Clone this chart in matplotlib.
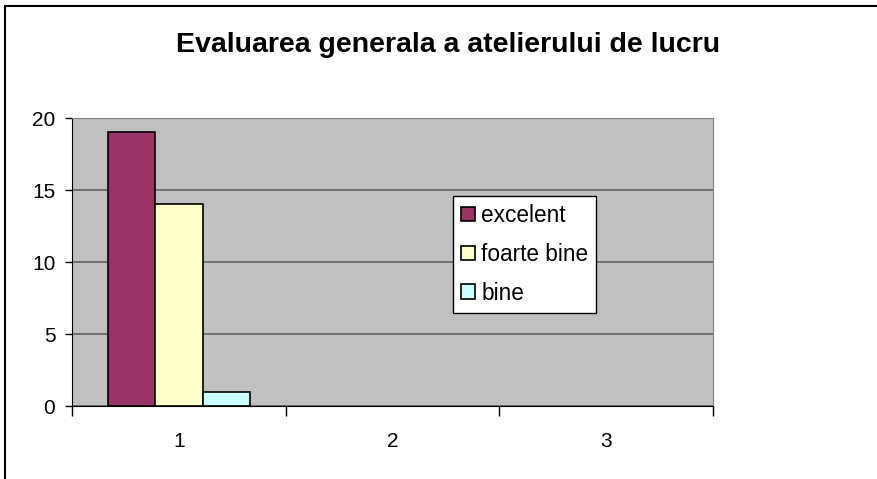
import matplotlib.pyplot as plt
import matplotlib.patches as mpatches
import numpy as np

plt.rcParams['font.family'] = ['Liberation Sans', 'DejaVu Sans']

categories = ['1', '2', '3']
excelent = [19, 0, 0]
foarte_bine = [14, 0, 0]
bine = [1, 0, 0]
series_names = ['excelent', 'foarte bine', 'bine']
colors = ['#993366', '#FFFFCC', '#CCFFFF']

fig = plt.figure(figsize=(8.77, 4.79), dpi=100)
W, H = 877, 479

# outer chart border (Excel chart area)
fig.patches.append(mpatches.Rectangle((5 / W, -0.01), 1.0, 1 - 6 / H + 0.01,
                                      transform=fig.transFigure, fill=False,
                                      edgecolor='black', linewidth=1.5))

ax = fig.add_axes([72 / W, 1 - 406 / H, (713 - 72) / W, (406 - 118) / H])
ax.set_facecolor('#C0C0C0')

x = np.arange(1, len(categories) + 1)
w = 1 / 4.5
for i, (vals, name, c) in enumerate(zip([excelent, foarte_bine, bine], series_names, colors)):
    vals = np.array(vals)
    keep = vals > 0  # Excel draws nothing for empty cells
    ax.bar(x[keep] + (i - 1) * w, vals[keep], width=w, color=c, edgecolor='black',
           linewidth=1.2, label=name, zorder=3)

ax.set_xlim(0.5, 3.5)
ax.set_ylim(0, 20)
ax.set_yticks(np.arange(0, 21, 5))
ax.yaxis.grid(True, color='#606060', linewidth=1.2, zorder=1)
ax.set_axisbelow(True)

ax.set_xticks([0.5, 1.5, 2.5, 3.5])
ax.set_xticklabels([])
ax.set_xticks(x, minor=True)
ax.set_xticklabels(categories, minor=True)
ax.tick_params(axis='x', which='major', length=7, width=1, direction='out')
ax.tick_params(axis='x', which='minor', length=0, pad=19, labelsize=15)
ax.tick_params(axis='y', length=5, width=1, direction='out', labelsize=15, pad=7)

ax.spines['left'].set_color('black')
ax.spines['bottom'].set_color('black')
ax.spines['top'].set_color('#808080')
ax.spines['right'].set_color('#808080')

fig.text(448 / W, 1 - 45 / H, 'Evaluarea generala a atelierului de lucru',
         ha='center', va='center', fontsize=20.5, fontweight='bold')

leg = fig.legend(loc='upper left', bbox_to_anchor=(453 / W, 1 - 196 / H),
                 frameon=True, fancybox=False, fontsize=16.3, handlelength=0.6,
                 handleheight=0.6, handletextpad=0.3, labelspacing=0.7,
                 borderpad=0.35, borderaxespad=0)
leg.get_frame().set_edgecolor('black')
leg.get_frame().set_linewidth(1)
leg.get_frame().set_facecolor('white')
leg.get_frame().set_alpha(1)

plt.savefig('out.png', dpi=100)
